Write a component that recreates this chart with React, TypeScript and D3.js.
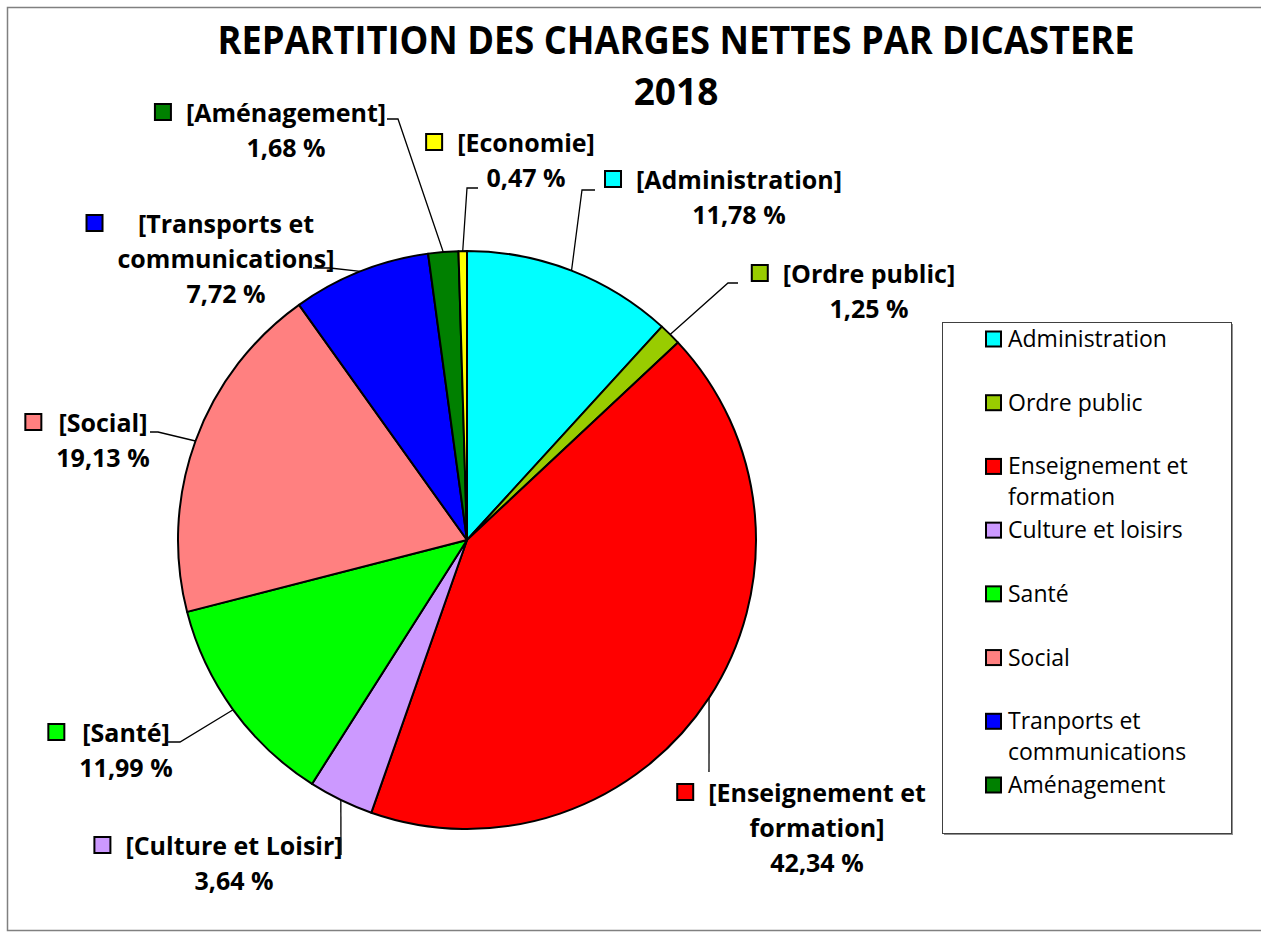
import * as d3 from "d3"
import { useEffect, useRef } from "react"

// legend names (as written in the legend box)
const categories = [
  "Administration",
  "Ordre public",
  "Enseignement et formation",
  "Culture et loisirs",
  "Santé",
  "Social",
  "Tranports et communications",
  "Aménagement",
  "Economie",
]
// data label texts on the pie
const labelNames = [
  "[Administration]",
  "[Ordre public]",
  "[Enseignement et formation]",
  "[Culture et Loisir]",
  "[Santé]",
  "[Social]",
  "[Transports et communications]",
  "[Aménagement]",
  "[Economie]",
]
const values = [11.78, 1.25, 42.34, 3.64, 11.99, 19.13, 7.72, 1.68, 0.47]
const colours = [
  "#00ffff",
  "#99cc00",
  "#ff0000",
  "#cc99ff",
  "#00ff00",
  "#ff8080",
  "#0000ff",
  "#008000",
  "#ffff00",
]
const legendNames = categories.slice(0, 8)
const legendLines = [
  ["Administration"],
  ["Ordre public"],
  ["Enseignement et", "formation"],
  ["Culture et loisirs"],
  ["Santé"],
  ["Social"],
  ["Tranports et", "communications"],
  ["Aménagement"],
]
const titleLines = ["REPARTITION DES CHARGES NETTES PAR DICASTERE", "2018"]

// label placement: centre x, first baseline, wrapped lines, leader start points
const labelLayout = [
  { cx: 739, y: 189, lines: ["[Administration]"], leader: [[595, 190], [582, 190]] },
  { cx: 869, y: 283, lines: ["[Ordre public]"], leader: [[738, 283], [728, 283]] },
  { cx: 817, y: 802, lines: ["[Enseignement et", "formation]"], leader: [[709, 772]] },
  { cx: 234, y: 855, lines: ["[Culture et Loisir]"], leader: [[341, 855]] },
  { cx: 126, y: 742, lines: ["[Santé]"], leader: [[168, 742], [180, 742]] },
  { cx: 103, y: 432, lines: ["[Social]"], leader: [[150, 432], [158, 432]] },
  { cx: 226, y: 233, lines: ["[Transports et", "communications]"], leader: [[313, 268], [330, 268]] },
  { cx: 286, y: 122, lines: ["[Aménagement]"], leader: [[387, 119], [398, 119]] },
  { cx: 526, y: 152, lines: ["[Economie]"], leader: [[478, 188], [467, 188]] },
]

const fmt = (v) => d3.format(".2f")(v).replace(".", ",") + " %"

const PieChart = ({ width = 1261, height = 933 }) => {
  const ref = useRef()

  useEffect(() => {
    const svg = d3.select(ref.current)
    svg.selectAll("*").remove()
    svg.attr("width", width).attr("height", height)

    const font = "'Open Sans', 'Noto Sans', sans-serif"
    const cx = 467
    const cy = 540
    const r = 289

    // outer frame
    svg
      .append("rect")
      .attr("x", 7.5)
      .attr("y", 7.5)
      .attr("width", 1262)
      .attr("height", 923)
      .attr("fill", "#fff")
      .attr("stroke", "#808080")
      .attr("stroke-width", 1.5)

    // title
    const title = svg
      .append("g")
      .attr("font-family", font)
      .attr("font-weight", "bold")
      .attr("font-size", 39)
      .attr("text-anchor", "middle")
      .attr("fill", "#000")
    title
      .append("text")
      .attr("x", 676)
      .attr("y", 54)
      .attr("textLength", 917)
      .attr("lengthAdjust", "spacingAndGlyphs")
      .text(titleLines[0])
    title
      .append("text")
      .attr("x", 676)
      .attr("y", 105)
      .attr("font-size", 37)
      .text(titleLines[1])

    // pie
    const pie = d3
      .pie()
      .sort(null)
      .value((d) => d)
    const arcs = pie(values)
    const arc = d3.arc().innerRadius(0).outerRadius(r)

    const pieG = svg.append("g").attr("transform", `translate(${cx},${cy})`)
    pieG
      .selectAll("path")
      .data(arcs)
      .enter()
      .append("path")
      .attr("d", arc)
      .attr("fill", (d, i) => colours[i])
      .attr("stroke", "#000")
      .attr("stroke-width", 2)
      .attr("stroke-linejoin", "round")

    // leader lines
    const edge = (d) => {
      const a = (d.startAngle + d.endAngle) / 2
      return [cx + r * Math.sin(a), cy - r * Math.cos(a)]
    }
    const line = d3.line()
    svg
      .append("g")
      .selectAll("path")
      .data(arcs)
      .enter()
      .append("path")
      .attr("d", (d, i) => line([...labelLayout[i].leader, edge(d)]))
      .attr("fill", "none")
      .attr("stroke", "#000")
      .attr("stroke-width", 1.3)

    // data labels
    const labelG = svg
      .append("g")
      .attr("font-family", font)
      .attr("font-weight", "bold")
      .attr("font-size", 25)
      .attr("fill", "#000")

    arcs.forEach((d, i) => {
      const lay = labelLayout[i]
      const lines = [...lay.lines, fmt(values[i])]
      const g = labelG.append("g")
      let maxW = 0
      lines.forEach((t, k) => {
        const txt = g
          .append("text")
          .attr("x", lay.cx)
          .attr("y", lay.y + k * 35)
          .attr("text-anchor", "middle")
          .text(t)
        maxW = Math.max(maxW, txt.node().getComputedTextLength())
      })
      const right = lay.cx - maxW / 2 - 15
      g.append("rect")
        .attr("x", right - 16)
        .attr("y", lay.y - 18)
        .attr("width", 16)
        .attr("height", 16)
        .attr("fill", colours[i])
        .attr("stroke", "#000")
        .attr("stroke-width", 2)
    })

    // legend
    const lx = 942
    const ly = 322
    const lw = 289
    const lh = 511
    svg
      .append("path")
      .attr("d", `M${lx + lw + 1},${ly + 2}V${ly + lh + 1}H${lx + 2}`)
      .attr("fill", "none")
      .attr("stroke", "#909090")
      .attr("stroke-width", 2)
    svg
      .append("rect")
      .attr("x", lx + 0.5)
      .attr("y", ly + 0.5)
      .attr("width", lw)
      .attr("height", lh)
      .attr("fill", "#fff")
      .attr("stroke", "#404040")
      .attr("stroke-width", 1)

    const ly0 = d3.scalePoint().domain(legendNames).range([339, 785])
    const legend = svg
      .append("g")
      .attr("font-family", font)
      .attr("font-size", 23)
      .attr("fill", "#000")
    legendNames.forEach((name, i) => {
      const y = ly0(name)
      legend
        .append("rect")
        .attr("x", 986)
        .attr("y", y - 7.5)
        .attr("width", 15)
        .attr("height", 15)
        .attr("fill", colours[i])
        .attr("stroke", "#000")
        .attr("stroke-width", 2)
      legendLines[i].forEach((t, k) => {
        legend
          .append("text")
          .attr("x", 1008)
          .attr("y", y + 8 + k * 31)
          .text(t)
      })
    })
  }, [])

  return (
    <svg
      ref={ref}
      style={{ position: "absolute", left: 0, top: 0, display: "block" }}
    />
  )
}

export default function App() {
  return <PieChart />
}
